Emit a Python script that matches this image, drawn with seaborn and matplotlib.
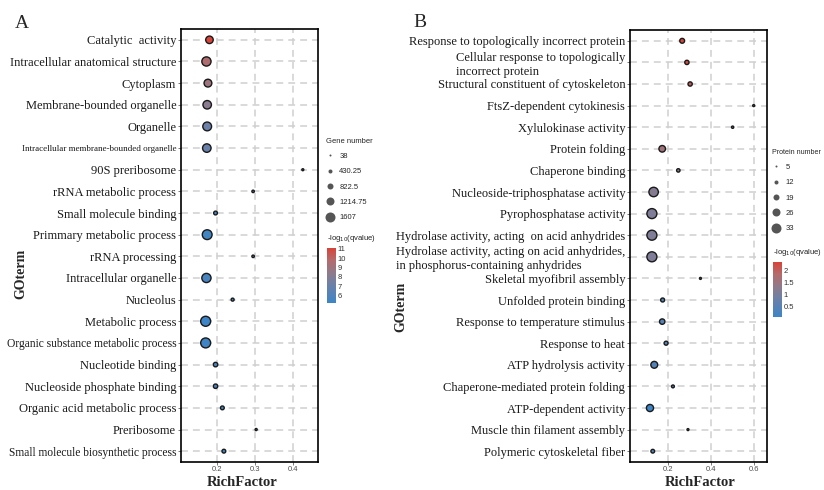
import numpy as np
import pandas as pd
import matplotlib
matplotlib.use("Agg")
import matplotlib.pyplot as plt
import seaborn as sns
from matplotlib.colors import LinearSegmentedColormap, Normalize
from matplotlib.cm import ScalarMappable
from matplotlib.lines import Line2D
from matplotlib.ticker import MultipleLocator

# panel A: GO terms, rich factor, gene number, -log10(qvalue)
terms_a = [
    "Catalytic  activity", "Intracellular anatomical structure", "Cytoplasm",
    "Membrane-bounded organelle", "Organelle", "Intracellular membrane-bounded organelle",
    "90S preribosome", "rRNA metabolic process", "Small molecule binding",
    "Primmary metabolic process", "rRNA processing", "Intracellular organelle",
    "Nucleolus", "Metabolic process", "Organic substance metabolic process",
    "Nucleotide binding", "Nucleoside phosphate binding", "Organic acid metabolic process",
    "Preribosome", "Small molecule biosynthetic process",
]
rich_a = [0.180, 0.172, 0.176, 0.174, 0.174, 0.173, 0.426, 0.295, 0.196, 0.174,
          0.295, 0.172, 0.241, 0.170, 0.170, 0.196, 0.196, 0.214, 0.303, 0.218]
genes_a = [1120, 1450, 1175, 1310, 1370, 1310, 38, 130, 390, 1570,
           135, 1450, 235, 1607, 1595, 530, 510, 390, 60, 390]
qval_a = [11.1, 9.6, 9.0, 8.2, 7.2, 7.0, 5.6, 5.6, 5.6, 5.4,
          5.5, 5.6, 5.5, 5.2, 5.3, 5.5, 5.5, 5.4, 5.3, 5.3]

# panel B: GO terms, rich factor, protein number, -log10(qvalue)
terms_b = [
    "Response to topologically incorrect protein",
    "Cellular response to topologically\nincorrect protein",
    "Structural constituent of cytoskeleton", "FtsZ-dependent cytokinesis",
    "Xylulokinase activity", "Protein folding", "Chaperone binding",
    "Nucleoside-triphosphatase activity", "Pyrophosphatase activity",
    "Hydrolase activity, acting  on acid anhydrides",
    "Hydrolase activity, acting on acid anhydrides,\nin phosphorus-containing anhydrides",
    "Skeletal myofibril assembly", "Unfolded protein binding",
    "Response to temperature stimulus", "Response to heat", "ATP hydrolysis activity",
    "Chaperone-mediated protein folding", "ATP-dependent activity",
    "Muscle thin filament assembly", "Polymeric cytoskeletal fiber",
]
rich_b = [0.265, 0.287, 0.302, 0.598, 0.500, 0.172, 0.247, 0.132, 0.124, 0.124,
          0.124, 0.350, 0.174, 0.172, 0.190, 0.135, 0.222, 0.115, 0.292, 0.128]
proteins_b = [15, 13, 13, 5, 6, 21, 10, 31, 33, 33,
              33, 5, 12, 17, 12, 22, 8, 23, 5, 11]
qval_b = [2.37, 2.30, 2.10, 0.9, 0.9, 1.6, 1.3, 1.2, 1.1, 1.1,
          1.1, 0.6, 0.45, 0.45, 0.45, 0.4, 0.5, 0.08, 0.6, 0.4]

xlim_a = (0.105, 0.466)
xlim_b = (0.022, 0.660)

sns.set_theme(style="white")
plt.rcParams["font.family"] = ["Liberation Serif", "DejaVu Serif"]

cmap = LinearSegmentedColormap.from_list(
    "qv", [(0, "#3d85c6"), (0.35, "#6f80a6"), (0.55, "#8f7a8a"), (0.78, "#b56a6c"), (1, "#d6443a")])

PX = 72 / 100  # points per pixel


def diam_pt(n, lo, hi):
    # dot diameter grows linearly from 2 px to 10 px
    return (2 + (n - lo) / (hi - lo) * 8) * PX


fig = plt.figure(figsize=(8.24, 4.9), dpi=100)
W, H = 824, 490


def add_ax(x0, y0, x1, y1):
    return fig.add_axes([x0 / W, 1 - y1 / H, (x1 - x0) / W, (y1 - y0) / H])


def panel(ax, terms, rich, counts, qv, xlim, step, small_labels):
    lo, hi = min(counts), max(counts)
    df = pd.DataFrame({"term": terms, "pos": np.arange(len(terms)), "rich": rich,
                       "count": counts, "q": qv})
    sizes = {c: diam_pt(c, lo, hi) ** 2 for c in set(counts)}
    ax.grid(True, color="#cfcfcf", linestyle=(0, (4.5, 3.3)), linewidth=1.1, zorder=0)
    ax.set_axisbelow(True)
    sns.scatterplot(data=df, x="rich", y="pos", hue="q", size="count", sizes=sizes,
                    palette=cmap, hue_norm=(min(qv), max(qv)), edgecolor="#1a1a1a",
                    linewidth=1.0, legend=False, ax=ax, zorder=3)
    ax.set_xlim(*xlim)
    ax.set_ylim(len(terms) - 0.5, -0.5)
    ax.xaxis.set_major_locator(MultipleLocator(step))
    ax.xaxis.set_major_formatter(lambda v, p: f"{v:.1f}")
    ax.set_yticks(df["pos"])
    ax.set_yticklabels(terms)
    ax.set_xlabel("")
    ax.set_ylabel("")
    for lab in ax.get_yticklabels():
        lab.set_multialignment("left")
        lab.set_fontsize(small_labels.get(lab.get_text(), 9))
        lab.set_color("#1a1a1a")
    for lab in ax.get_xticklabels():
        lab.set_family(["Liberation Sans"])
        lab.set_fontsize(5.5)
        lab.set_color("#4d4d4d")
    ax.tick_params(axis="y", length=2, width=0.5, color="#444444", pad=1.5, left=True)
    ax.tick_params(axis="x", length=2, width=0.5, color="#444444", pad=1, bottom=True)
    for sp in ax.spines.values():
        sp.set_color("black")
        sp.set_linewidth(1.2)


def side_legend(title, counts, qv, x, y_title, cb_top, cb_bot, step, title_size=5.5):
    lo, hi = min(counts), max(counts)
    breaks = np.linspace(lo, hi, 5)
    handles = [Line2D([], [], ls="", marker="o", markersize=diam_pt(b, lo, hi),
                      markerfacecolor="#555555", markeredgewidth=0) for b in breaks]
    fig.legend(handles, [f"{b:g}" for b in breaks], title=title, loc="upper left",
               bbox_to_anchor=((x - 3) / W, 1 - (y_title - 6) / H), frameon=False,
               prop={"family": "Liberation Sans", "size": 5.5},
               title_fontproperties={"family": "Liberation Sans", "size": title_size},
               alignment="left", labelspacing=1.05, handletextpad=0.6,
               handlelength=1.2, borderpad=0.2, borderaxespad=0)
    cax = add_ax(x, cb_top, x + 9, cb_bot)
    sm = ScalarMappable(norm=Normalize(min(qv), max(qv)), cmap=cmap)
    cb = fig.colorbar(sm, cax=cax)
    cb.outline.set_visible(False)
    cb.ax.yaxis.set_major_locator(MultipleLocator(step))
    cb.ax.yaxis.set_major_formatter(lambda v, p: f"{v:g}")
    cax.tick_params(direction="in", color="white", length=2, width=0.6, labelsize=5.5,
                    labelcolor="#333333", pad=1)
    for lab in cax.get_yticklabels():
        lab.set_family(["Liberation Sans"])
    fig.text(x / W, 1 - (cb_top - 10) / H, "-log$_{10}$(qvalue)", family=["Liberation Sans"],
             fontsize=5.5, color="#222222", va="center", ha="left")


ax_a = add_ax(181, 29, 318, 462)
panel(ax_a, terms_a, rich_a, genes_a, qval_a, xlim_a, 0.1,
      {"Intracellular membrane-bounded organelle": 6.5,
       "Organic substance metabolic process": 8.3,
       "Small molecule biosynthetic process": 8.3})
ax_b = add_ax(630, 30, 767, 462)
panel(ax_b, terms_b, rich_b, proteins_b, qval_b, xlim_b, 0.2, {})

side_legend("Gene number", genes_a, qval_a, 327, 142, 248, 303, 1)
side_legend("Protein number", proteins_b, qval_b, 773, 153, 262, 317, 0.5, title_size=5.1)

# panel letters and axis titles
fig.text(15 / W, 1 - 28 / H, "A", fontsize=14, va="baseline")
fig.text(413 / W, 1 - 27 / H, "B", fontsize=14, va="baseline")
fig.text(20.5 / W, 1 - 274 / H, "GOterm", rotation=90, fontsize=10, weight="bold",
         ha="center", va="center")
fig.text(400.5 / W, 1 - 307 / H, "GOterm", rotation=90, fontsize=10, weight="bold",
         ha="center", va="center")
fig.text(242 / W, 1 / H, "RichFactor", fontsize=10.5, weight="bold",
         ha="center", va="bottom")
fig.text(700 / W, 1 / H, "RichFactor", fontsize=10.5, weight="bold",
         ha="center", va="bottom")

fig.savefig("out.png", dpi=100)
